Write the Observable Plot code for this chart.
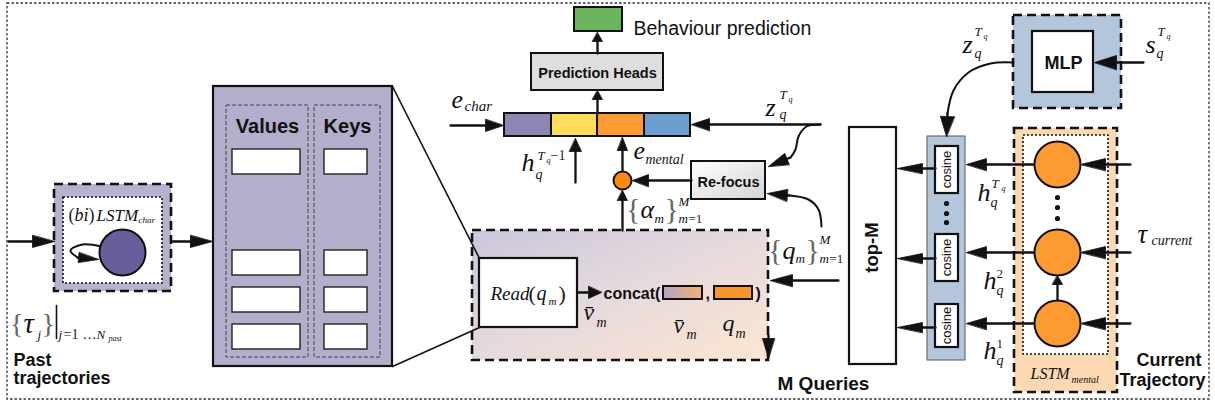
<!DOCTYPE html>
<html><head><meta charset="utf-8">
<script src="https://cdn.jsdelivr.net/npm/d3@7"></script>
<script src="https://cdn.jsdelivr.net/npm/@observablehq/plot@0.6"></script>
<style>body{margin:0;background:#fff}</style>
</head><body><div id="chart"></div>
<script>
// ---------- boxes (x1,y1,x2,y2) ----------
const outerFrame = [{x1:7,y1:3,x2:1209,y2:399}];
const dashedPanels = [
  {name:"lstmChar", x1:54, y1:184, x2:171, y2:291},
  {name:"mQueries", x1:472, y1:230, x2:768, y2:360},
  {name:"mlp", x1:1013, y1:15, x2:1121, y2:108},
  {name:"lstmMental", x1:1014, y1:128, x2:1117, y2:392}
];
const dottedPanels = [
  {name:"lstmCharInner", x1:63, y1:197, x2:162, y2:283},
  {name:"lstmMentalInner", x1:1023, y1:135, x2:1108, y2:354}
];
const memoryBox = [{x1:213, y1:86, x2:392, y2:366}];
const memoryColumns = [
  {name:"Values", x1:226, y1:105, x2:308, y2:357},
  {name:"Keys", x1:314, y1:105, x2:380, y2:357}
];
const slotRows = [[149,174],[250,275],[287,312],[324,349]];
const slotCols = [[232,300],[324,367]];
const whiteBoxes = [
  {name:"read", x1:479, y1:258, x2:577, y2:327},
  {name:"topM", x1:849, y1:127, x2:896, y2:364},
  {name:"mlpInner", x1:1032, y1:31, x2:1093, y2:92},
  {name:"cos1", x1:935, y1:146, x2:958, y2:193},
  {name:"cos2", x1:935, y1:234, x2:958, y2:281},
  {name:"cos3", x1:935, y1:304, x2:958, y2:347}
];
const filledBoxes = [
  {name:"charCell", x1:504, y1:113, x2:551, y2:136},
  {name:"hCell", x1:551, y1:113, x2:597, y2:136},
  {name:"mentalCell", x1:597, y1:113, x2:644, y2:136},
  {name:"zCell", x1:644, y1:113, x2:690, y2:136},
  {name:"heads", x1:531, y1:53, x2:663, y2:90},
  {name:"behaviour", x1:574, y1:7, x2:622, y2:31},
  {name:"refocus", x1:691, y1:161, x2:765, y2:199},
  {name:"vbarSwatch", x1:663, y1:286, x2:702, y2:299},
  {name:"qSwatch", x1:714, y1:286, x2:752, y2:299}
];
const cosinePanel = [{x1:927, y1:136, x2:965, y2:360}];

// ---------- nodes ----------
const nodes = [
  {name:"charNode", x:122, y:252, r:23},
  {name:"attnNode", x:622, y:180, r:9},
  {name:"m1", x:1057, y:164, r:23},
  {name:"m2", x:1057, y:252, r:23},
  {name:"m3", x:1057, y:323, r:23}
];
const ellipsisDots = [
  [946,203],[946,213],[946,222],
  [1057,197],[1057,207],[1057,218]
];

// ---------- connections ----------
// [x1, y1, x2 (tip), y2 (tip), headLength, headHalfWidth]
const arrows = [
  [8,241,54,241,22,6],
  [171,241,212,241,22,6],
  [450,125,503,125,18,6],
  [820,124,691,124,18,6],
  [597,113,597,90,9,5],
  [597,53,597,32,9,5],
  [575,182,575,138,13,6],
  [622,171,622,137,13,5],
  [622,230,622,190,10,5],
  [691,180,632,180,16,6],
  [577,292,601,292,13,6],
  [768,335,768,358,20,6],
  [838,280,770,280,22,6],
  [935,168,897,168,25,5],[935,258,897,258,25,5],[935,327,897,327,25,5],
  [1034,164,966,164,20,6],[1034,252,966,252,20,6],[1034,323,966,323,20,6],
  [1130,164,1080,164,25,6],[1130,252,1080,252,25,6],[1130,323,1080,323,25,6],
  [1057,300,1057,275,9,5],
  [1143,62,1094,62,22,7],
  [947,113,946,136,20,7],
  [790,157,768,166,20,6],
  [789,195,767,193,20,6],
  [77,257,98,259,20,5]
];
const curves = [
  {id:"mlpToCosine", pts:[[1013,62],[990,63],[968,72],[953,90],[947,113]]},
  {id:"zToRefocus", pts:[[820,124],[806,126],[798,136],[795,149],[790,157]]},
  {id:"qToRefocus", pts:[[821,226],[818,209],[808,199],[789,195]]},
  {id:"charLoop", pts:[[101,246],[82,244],[70,250],[77,257]]}
];
const plainLines = [[392,86,479,258],[392,366,479,327],[56,305,56,338]];

// ---------- texts ----------
const boldLabels = [
  [267,132,"Values",20,"middle"],[347,132,"Keys",20,"middle"],
  [597,77,"Prediction Heads",14.5,"middle"],[728,186,"Re-focus",14.5,"middle"],
  [603,298,"concat(",16,"start"],[705,298,",",16,"start"],[755,298,")",16,"start"],
  [1063,68,"MLP",18,"middle"],
  [13,365,"Past",18,"start"],[13,383,"trajectories",18,"start"],
  [777,389,"M Queries",19,"start"],
  [1201,365,"Current",18,"end"],[1205,385,"Trajectory",18,"end"]
];
const plainLabels = [[633,34,"Behaviour prediction",19.5]];
const rotatedBold = [[872,247,"top-M",18.5]];
const rotatedPlain = [[946,169,"cosine",13],[946,257,"cosine",13],[946,325,"cosine",13]];
const mathItalic = [
  [451,107,"e",26],[464,110,"char",15],
  [765,115,"z",26],[779,118,"q",14],[779,98,"T",13],[788,101,"q",8],
  [521,170,"h",26],[535,178,"q",14],[537,159,"T",13],[546,162,"q",8],
  [633,158,"e",26],[645,163,"mental",14],
  [640,217,"α",26],[654,222,"m",13],[678,205,"M",13],[678,222,"m",13],
  [782,258,"q",26],[795,262,"m",13],[819,243,"M",13],[819,262,"m",13],
  [490,299,"Read",19],[536,299,"q",20],[548,304,"m",11],
  [583,319,"v\u0304",24],[596,326,"m",14],
  [673,332,"v\u0304",24],[686,338,"m",14],
  [722,330,"q",24],[735,337,"m",14],
  [74,220,"bi",18],[96,220,"LSTM",17],[138,222,"char",9],
  [23,332,"τ",29],[37,338,"j",13],[58,338,"j",13],[96,338,"N",13],[108,340,"past",8],
  [962,52,"z",26],[974,57,"q",14],[974,35,"T",13],[983,38,"q",8],
  [1145,52,"s",26],[1156,57,"q",14],[1157,35,"T",13],[1166,38,"q",8],
  [977,200,"h",26],[990,206,"q",14],[991,187,"T",13],[1001,190,"q",8],
  [983,288,"h",26],[996,294,"q",14],
  [983,358,"h",26],[996,364,"q",14],
  [1137,242,"τ",27],[1151,244,"current",14],
  [1030,378,"LSTM",16],[1071,382,"mental",10]
];
const mathUpright = [
  [550,159,"−1",14],
  [688,222,"=1",13],[829,262,"=1",13],
  [528,300,"(",22],[558,300,")",22],
  [68,220,"(",18],[88,220,")",18],
  [63,338,"=1",14],[82,338,"…",14],
  [996,277,"2",13],[996,347,"1",13]
];
// braces: [x, y, glyph, size, anchor]
const braces = [
  [640,218,"{",30,"end"],[664,218,"}",30,"start"],
  [782,259,"{",30,"end"],[805,259,"}",30,"start"],
  [23,332,"{",28,"end"],[41,332,"}",28,"start"]
];

// ---------- palette ----------
const palette = {
  lstmChar:"#b6b1ce", mQueries:"url(#gQueries)", mlp:"#b4c6dc", lstmMental:"#fdd9b3",
  charCell:"#8f87b3", hCell:"#fddc5a", mentalCell:"#fd9a31", zCell:"#6c9fcf",
  heads:"#dedede", behaviour:"#6bb55e", refocus:"url(#gRefocus)",
  vbarSwatch:"url(#gSwatch)", qSwatch:"#f7962e",
  charNode:"#6a5d9b", attnNode:"#fb8a0e", m1:"#fd9a31", m2:"#fd9a31", m3:"#fd9a31"
};

// ---------- derived geometry for the library ----------
const slots = slotRows.flatMap(([y1,y2]) => slotCols.map(([x1,x2]) => ({x1,y1,x2,y2})));
const shafts = [], heads = [];
arrows.forEach(([x1,y1,x2,y2,L,W], i) => {
  const dx = x2-x1, dy = y2-y1, len = Math.hypot(dx,dy), ux = dx/len, uy = dy/len;
  const bx = x2-L*ux, by = y2-L*uy;
  shafts.push({id:"s"+i, x:x1, y:y1}, {id:"s"+i, x:x2-0.6*L*ux, y:y2-0.6*L*uy});
  heads.push({id:"h"+i, x:x2, y:y2}, {id:"h"+i, x:bx-W*uy, y:by+W*ux}, {id:"h"+i, x:bx+W*uy, y:by-W*ux});
});
const curvePts = curves.flatMap(c => c.pts.map(([x,y]) => ({id:c.id, x, y})));
const linePts = plainLines.flatMap(([x1,y1,x2,y2], i) => [{id:"l"+i,x:x1,y:y1},{id:"l"+i,x:x2,y:y2}]);
const dotPts = ellipsisDots.map(([x,y]) => ({x,y}));
const toT = a => a.map(([x,y,t,s,anchor]) => ({x,y,t,s,anchor}));

const R = {x1:"x1", y1:"y1", x2:"x2", y2:"y2"};
const serif = "Liberation Serif, DejaVu Serif, serif";
const sans = "Liberation Sans, Arial, sans-serif";

const svg = Plot.plot({
  width:1215, height:405, margin:0,
  x:{domain:[0,1215], range:[0,1215], axis:null},
  y:{domain:[0,405], range:[0,405], axis:null},
  color:{type:"identity"}, r:{type:"identity"},
  style:{background:"#fff", overflow:"visible"},
  marks:[
    Plot.rect(outerFrame, {...R, fill:"none", stroke:"#333", strokeWidth:1.3, strokeDasharray:"2.5,2"}),
    Plot.rect(dashedPanels, {...R, fill:d => palette[d.name], stroke:"#111", strokeWidth:2.6, strokeDasharray:"9,5"}),
    Plot.rect(dottedPanels, {...R, fill:"#fff", stroke:"#111", strokeWidth:1.6, strokeDasharray:"2,2"}),
    Plot.rect(memoryBox, {...R, fill:"#b3aecb", stroke:"#111", strokeWidth:2.2}),
    Plot.rect(memoryColumns, {...R, fill:"none", stroke:"#444", strokeWidth:1, strokeDasharray:"4,2"}),
    Plot.rect(slots, {...R, fill:"#fff", stroke:"#222", strokeWidth:1.4}),
    Plot.rect(cosinePanel, {...R, fill:"#b4c6dc", stroke:"#555", strokeWidth:1}),
    Plot.line(linePts, {x:"x", y:"y", z:"id", stroke:"#111", strokeWidth:1.6}),
    Plot.rect(whiteBoxes, {...R, fill:"#fff", stroke:"#111", strokeWidth:2.2}),
    Plot.rect(filledBoxes, {...R, fill:d => palette[d.name], stroke:"#111", strokeWidth:2}),
    Plot.line(curvePts, {x:"x", y:"y", z:"id", curve:"catmull-rom", stroke:"#111", strokeWidth:2}),
    Plot.line(shafts, {x:"x", y:"y", z:"id", stroke:"#111", strokeWidth:2.3}),
    Plot.line(heads, {x:"x", y:"y", z:"id", curve:"linear-closed", fill:"#111", stroke:"#111", strokeWidth:0.8}),
    Plot.dot(nodes, {x:"x", y:"y", r:"r", fill:d => palette[d.name], stroke:"#111", strokeWidth:2}),
    Plot.dot(dotPts, {x:"x", y:"y", r:2.6, fill:"#111"}),
    ...["start","middle","end"].map(a => Plot.text(toT(boldLabels).filter(d => d.anchor === a),
      {x:"x", y:"y", text:"t", fontSize:"s", textAnchor:a, lineAnchor:"bottom", fontFamily:sans, fontWeight:"bold", fill:"#111"})),
    Plot.text(toT(plainLabels), {x:"x", y:"y", text:"t", fontSize:"s", textAnchor:"start", lineAnchor:"bottom", fontFamily:sans, fill:"#111"}),
    Plot.text(toT(rotatedBold), {x:"x", y:"y", text:"t", fontSize:"s", rotate:-90, textAnchor:"middle", lineAnchor:"middle", fontFamily:sans, fontWeight:"bold", fill:"#111"}),
    Plot.text(toT(rotatedPlain), {x:"x", y:"y", text:"t", fontSize:"s", rotate:-90, textAnchor:"middle", lineAnchor:"middle", fontFamily:sans, fill:"#111"}),
    Plot.text(toT(mathItalic), {x:"x", y:"y", text:"t", fontSize:"s", textAnchor:"start", lineAnchor:"bottom", fontFamily:serif, fontStyle:"italic", fill:"#111"}),
    Plot.text(toT(mathUpright), {x:"x", y:"y", text:"t", fontSize:"s", textAnchor:"start", lineAnchor:"bottom", fontFamily:serif, fill:"#222"}),
    ...["start","end"].map(a => Plot.text(toT(braces).filter(d => d.anchor === a),
      {x:"x", y:"y", text:"t", fontSize:"s", textAnchor:a, lineAnchor:"bottom", fontFamily:serif, fill:"#666"}))
  ]
});

const defs = d3.select(svg).insert("defs", ":first-child");
function grad(id, stops, x2, y2) {
  const g = defs.append("linearGradient").attr("id", id).attr("x1",0).attr("y1",0).attr("x2",x2).attr("y2",y2);
  stops.forEach(([o,c]) => g.append("stop").attr("offset", o).attr("stop-color", c));
}
grad("gQueries", [[0,"#cbc6dc"],[0.5,"#e6dadd"],[1,"#fde6d0"]], 1, 1);
grad("gRefocus", [[0,"#ffffff"],[1,"#d4d4d4"]], 1, 1);
grad("gSwatch", [[0,"#b1a6c6"],[1,"#f3b172"]], 1, 0);
document.getElementById("chart").appendChild(svg);
</script></body></html>
